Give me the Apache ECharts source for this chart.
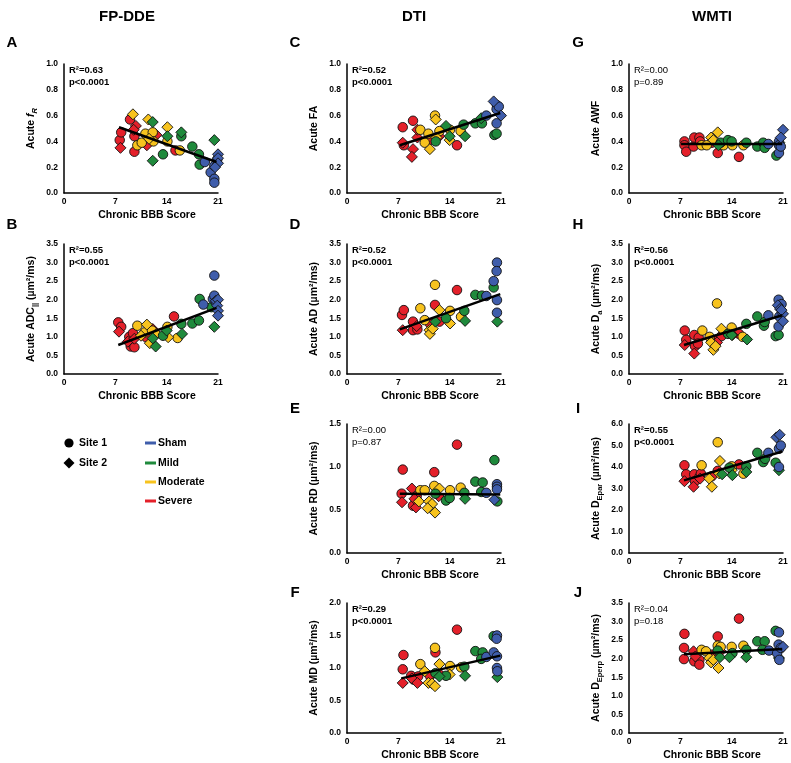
<!DOCTYPE html>
<html><head><meta charset="utf-8">
<script src="https://cdn.jsdelivr.net/npm/echarts@6/dist/echarts.min.js"></script>
<style>html,body{margin:0;padding:0;background:#fff}#c{width:791px;height:763px}</style>
</head><body><div id="c"></div>
<script>
// ---------- DATA ----------
const xTicks = [0, 7, 14, 21];
const columnTitles = ['FP-DDE', 'DTI', 'WMTI'];
const groupKeys = ['sev', 'mod', 'mild', 'sham'];
const groupLabels = ['Sham', 'Mild', 'Moderate', 'Severe'];
const siteLabels = ['Site 1', 'Site 2'];

// rows: [chronic BBB score, acute value, group, site]
const ptsA = [
 [7.7,0.35,'sev',2],[7.6,0.41,'sev',1],[7.8,0.47,'sev',1],[9.0,0.57,'sev',1],[9.8,0.52,'sev',2],[9.5,0.49,'sev',2],
 [9.6,0.44,'sev',1],[9.6,0.32,'sev',1],[11.3,0.37,'sev',2],[12.1,0.45,'sev',1],[12.6,0.45,'sev',2],[15.2,0.33,'sev',1],
 [9.4,0.61,'mod',2],[10.0,0.37,'mod',1],[10.6,0.39,'mod',1],[11.1,0.46,'mod',1],[11.5,0.57,'mod',2],[12.1,0.47,'mod',1],
 [12.2,0.40,'mod',1],[11.6,0.42,'mod',2],[14.1,0.51,'mod',2],[14.1,0.40,'mod',1],[15.8,0.33,'mod',1],
 [12.1,0.55,'mild',2],[12.1,0.25,'mild',2],[13.5,0.30,'mild',1],[14.1,0.44,'mild',2],[16.0,0.47,'mild',2],[16.0,0.44,'mild',1],
 [17.5,0.36,'mild',1],[18.4,0.30,'mild',1],[18.5,0.22,'mild',1],[20.5,0.41,'mild',2],
 [19.2,0.24,'sham',1],[20.0,0.16,'sham',1],[20.5,0.11,'sham',1],[20.5,0.08,'sham',1],[20.5,0.21,'sham',1],[21.0,0.30,'sham',2],
 [21.0,0.27,'sham',2],[21.0,0.23,'sham',2],[20.9,0.26,'sham',1],[20.6,0.20,'sham',2]
];
const ptsB = [
 [7.4,1.39,'sev',1],[7.8,1.27,'sev',1],[7.5,1.14,'sev',2],[8.9,1.00,'sev',1],[8.7,0.87,'sev',2],[9.4,1.10,'sev',1],
 [9.1,0.74,'sev',1],[9.6,0.72,'sev',1],[9.6,0.95,'sev',2],[11.2,0.99,'sev',1],[12.1,1.21,'sev',2],[15.0,1.55,'sev',1],
 [10.0,1.30,'mod',1],[10.5,1.03,'mod',2],[11.3,1.33,'mod',2],[11.0,1.12,'mod',1],[11.7,0.83,'mod',2],[12.0,1.17,'mod',1],
 [12.6,1.08,'mod',2],[14.1,1.27,'mod',1],[14.2,0.99,'mod',2],[15.5,0.97,'mod',1],
 [12.5,0.74,'mild',2],[12.1,0.96,'mild',2],[13.5,1.03,'mild',1],[14.0,1.17,'mild',2],[16.0,1.35,'mild',1],[16.1,1.08,'mild',2],
 [17.5,1.36,'mild',1],[18.4,1.44,'mild',1],[18.5,2.02,'mild',1],[20.1,1.80,'mild',1],[20.5,1.27,'mild',2],
 [19.0,1.87,'sham',1],[20.5,2.65,'sham',1],[20.3,2.02,'sham',1],[20.5,2.11,'sham',1],[20.7,1.97,'sham',2],[21.0,2.00,'sham',2],
 [20.9,1.84,'sham',2],[21.0,1.70,'sham',2],[21.0,1.57,'sham',2],[20.7,1.93,'sham',1]
];
const ptsC = [
 [7.6,0.51,'sev',1],[7.6,0.39,'sev',2],[7.75,0.37,'sev',1],[9.0,0.56,'sev',1],[9.0,0.34,'sev',2],[8.85,0.28,'sev',2],
 [9.6,0.43,'sev',2],[9.6,0.49,'sev',2],[11.3,0.41,'sev',1],[12.6,0.44,'sev',2],[15.0,0.37,'sev',1],
 [10.0,0.49,'mod',1],[10.6,0.39,'mod',1],[11.3,0.34,'mod',2],[11.1,0.46,'mod',1],[12.0,0.60,'mod',1],[12.1,0.57,'mod',2],
 [12.2,0.43,'mod',2],[12.6,0.48,'mod',1],[14.0,0.41,'mod',2],[14.05,0.49,'mod',1],[15.5,0.48,'mod',1],
 [12.1,0.40,'mild',1],[13.5,0.52,'mild',2],[14.0,0.44,'mild',2],[16.1,0.44,'mild',2],[15.9,0.53,'mild',1],[17.5,0.54,'mild',1],
 [18.4,0.54,'mild',1],[18.3,0.58,'mild',2],[20.1,0.45,'mild',1],[20.4,0.46,'mild',1],
 [19.0,0.60,'sham',1],[20.0,0.71,'sham',2],[20.45,0.68,'sham',1],[20.4,0.65,'sham',1],[20.4,0.54,'sham',1],[21.1,0.80,'sham',2],
 [21.1,0.72,'sham',2],[21.0,0.60,'sham',2],[20.7,0.67,'sham',1]
];
const ptsD = [
 [7.5,1.59,'sev',1],[7.75,1.72,'sev',1],[7.6,1.18,'sev',2],[9.0,1.41,'sev',1],[9.0,1.18,'sev',1],[9.5,1.29,'sev',2],
 [9.6,1.20,'sev',1],[12.0,1.86,'sev',1],[12.6,1.41,'sev',1],[11.3,1.36,'sev',1],[15.0,2.26,'sev',1],
 [10.0,1.77,'mod',1],[10.6,1.45,'mod',1],[11.25,1.18,'mod',2],[11.3,1.08,'mod',2],[11.7,1.22,'mod',2],[12.0,2.40,'mod',1],
 [12.6,1.72,'mod',2],[14.05,1.36,'mod',2],[14.05,1.70,'mod',1],[15.55,1.54,'mod',1],
 [12.06,1.41,'mild',2],[13.5,1.50,'mild',1],[16.0,1.70,'mild',1],[16.1,1.43,'mild',2],[17.5,2.13,'mild',1],[18.4,2.11,'mild',1],
 [20.0,2.33,'mild',1],[20.5,1.41,'mild',2],
 [19.0,2.10,'sham',1],[20.45,3.00,'sham',1],[20.4,2.77,'sham',1],[21.1,2.71,'sham',2],[20.0,2.50,'sham',1],[21.1,2.24,'sham',2],
 [20.45,1.99,'sham',1],[21.1,2.02,'sham',2],[21.1,1.95,'sham',2],[21.1,1.81,'sham',2],[20.45,1.65,'sham',1]
];
const ptsE = [
 [7.6,0.97,'sev',1],[7.5,0.59,'sev',2],[7.45,0.69,'sev',1],[8.85,0.75,'sev',2],[9.0,0.55,'sev',1],[9.4,0.53,'sev',2],
 [9.5,0.66,'sev',1],[11.9,0.94,'sev',1],[12.5,0.66,'sev',2],[15.0,1.26,'sev',1],[9.2,0.63,'sev',2],
 [10.0,0.73,'mod',1],[10.6,0.73,'mod',1],[9.8,0.60,'mod',2],[11.2,0.60,'mod',2],[11.6,0.57,'mod',2],[11.0,0.52,'mod',2],
 [12.0,0.47,'mod',2],[11.9,0.78,'mod',1],[12.6,0.75,'mod',2],[14.05,0.73,'mod',1],[15.5,0.76,'mod',1],
 [12.06,0.69,'mild',1],[13.5,0.61,'mild',1],[14.0,0.64,'mild',1],[16.0,0.70,'mild',1],[16.1,0.63,'mild',2],[17.5,0.83,'mild',1],
 [18.5,0.82,'mild',1],[18.3,0.71,'mild',1],[20.1,1.08,'mild',1],[20.5,0.60,'mild',1],
 [19.0,0.70,'sham',1],[20.45,0.80,'sham',1],[20.45,0.77,'sham',1],[20.45,0.74,'sham',1],[20.1,0.62,'sham',2],[21.1,0.62,'sham',2],
 [21.1,0.56,'sham',2],[21.1,0.48,'sham',2],[21.1,0.43,'sham',2],[21.1,0.37,'sham',2]
];
const ptsF = [
 [7.7,1.20,'sev',1],[7.6,0.98,'sev',1],[7.6,0.77,'sev',2],[8.75,0.88,'sev',1],[8.85,0.84,'sev',2],[9.1,0.82,'sev',1],
 [9.6,0.77,'sev',2],[9.7,0.87,'sev',1],[11.3,0.88,'sev',1],[12.06,1.24,'sev',1],[12.6,0.90,'sev',1],[15.0,1.59,'sev',1],
 [10.0,1.06,'mod',1],[10.6,0.95,'mod',2],[11.1,0.77,'mod',2],[11.6,0.76,'mod',2],[12.0,0.72,'mod',2],[12.0,1.31,'mod',1],
 [12.6,1.06,'mod',2],[14.05,1.03,'mod',1],[14.0,0.90,'mod',2],[15.55,1.01,'mod',1],
 [12.6,0.87,'mild',2],[12.06,0.92,'mild',1],[13.5,0.88,'mild',1],[16.1,0.88,'mild',2],[16.0,1.02,'mild',1],[17.5,1.26,'mild',1],
 [18.5,1.24,'mild',1],[18.3,1.14,'mild',1],[20.0,1.49,'mild',1],[20.5,0.86,'mild',2],
 [19.0,1.17,'sham',1],[20.45,1.50,'sham',1],[20.4,1.45,'sham',1],[20.0,1.24,'sham',1],[20.45,1.18,'sham',1],[21.1,1.32,'sham',2],
 [20.45,1.00,'sham',1],[21.1,1.00,'sham',2],[21.1,0.96,'sham',2],[20.5,0.95,'sham',1]
];
const ptsG = [
 [7.56,0.40,'sev',1],[7.56,0.37,'sev',1],[7.8,0.32,'sev',1],[8.8,0.36,'sev',1],[8.9,0.43,'sev',1],[9.6,0.43,'sev',1],
 [9.7,0.40,'sev',1],[12.1,0.31,'sev',1],[15.0,0.28,'sev',1],[11.3,0.39,'sev',1],
 [9.9,0.37,'mod',1],[10.6,0.37,'mod',1],[11.2,0.43,'mod',2],[11.5,0.41,'mod',2],[12.1,0.47,'mod',2],[12.9,0.37,'mod',1],
 [14.1,0.37,'mod',1],[15.6,0.37,'mod',1],
 [12.2,0.37,'mild',2],[12.5,0.39,'mild',1],[13.5,0.41,'mild',1],[14.0,0.40,'mild',1],[16.0,0.39,'mild',1],[17.5,0.36,'mild',1],
 [18.3,0.39,'mild',1],[18.5,0.35,'mild',1],[20.1,0.29,'mild',1],[20.5,0.39,'mild',2],
 [19.0,0.38,'sham',1],[21.0,0.49,'sham',2],[20.7,0.43,'sham',2],[20.45,0.40,'sham',1],[20.45,0.37,'sham',1],[20.45,0.31,'sham',1],
 [21.1,0.44,'sham',2],[21.1,0.38,'sham',2],[20.7,0.36,'sham',1]
];
const ptsH = [
 [7.6,1.17,'sev',1],[7.8,0.92,'sev',1],[7.6,0.78,'sev',2],[8.9,1.05,'sev',1],[8.9,0.55,'sev',2],[9.0,0.75,'sev',1],
 [9.5,0.98,'sev',1],[9.4,0.82,'sev',1],[11.3,0.88,'sev',2],[11.9,0.92,'sev',1],[12.6,1.02,'sev',1],[15.0,1.08,'sev',1],[12.0,0.85,'sev',2],
 [10.0,1.17,'mod',1],[11.2,0.85,'mod',2],[11.5,0.65,'mod',2],[11.8,0.75,'mod',2],[12.0,1.90,'mod',1],[12.6,1.22,'mod',2],
 [14.0,1.25,'mod',1],[14.1,1.05,'mod',2],[15.5,1.00,'mod',1],[11.0,1.00,'mod',1],
 [13.5,1.08,'mild',1],[14.0,1.05,'mild',2],[16.0,1.35,'mild',1],[16.1,0.93,'mild',2],[17.5,1.55,'mild',1],[18.4,1.30,'mild',1],
 [18.5,1.40,'mild',1],[20.0,1.02,'mild',1],[20.4,1.05,'mild',1],
 [19.0,1.58,'sham',1],[20.4,2.00,'sham',1],[20.3,1.85,'sham',2],[21.1,2.00,'sham',2],[20.6,1.75,'sham',2],[20.8,1.88,'sham',1],
 [21.0,1.62,'sham',2],[21.0,1.42,'sham',2],[20.4,1.28,'sham',1],[20.5,1.55,'sham',1],[20.8,1.72,'sham',2]
];
const ptsI = [
 [7.56,4.08,'sev',1],[7.8,3.66,'sev',1],[7.56,3.34,'sev',2],[8.9,3.66,'sev',1],[8.8,3.08,'sev',2],[9.0,3.34,'sev',1],
 [9.6,3.54,'sev',1],[9.8,3.69,'sev',1],[11.3,3.57,'sev',1],[12.1,3.82,'sev',1],[15.0,4.12,'sev',1],[9.7,3.46,'sev',2],
 [9.9,4.08,'mod',1],[10.95,3.46,'mod',2],[11.3,3.08,'mod',2],[12.1,5.15,'mod',1],[12.4,4.28,'mod',2],[12.3,3.70,'mod',2],
 [14.0,4.03,'mod',1],[14.0,3.85,'mod',2],[15.6,3.69,'mod',1],
 [13.7,3.97,'mild',1],[14.1,3.62,'mild',2],[16.0,4.03,'mild',1],[16.0,3.77,'mild',2],[17.5,4.66,'mild',1],[18.3,4.23,'mild',1],
 [18.55,4.38,'mild',1],[20.0,4.20,'mild',1],[20.45,3.85,'mild',2],[12.7,3.66,'mild',2],
 [19.0,4.66,'sham',1],[20.1,5.38,'sham',2],[20.55,5.50,'sham',2],[21.1,5.49,'sham',2],[21.1,5.18,'sham',2],[21.1,4.54,'sham',2],
 [20.45,4.85,'sham',1],[20.45,4.00,'sham',1],[20.7,5.00,'sham',1]
];
const ptsJ = [
 [7.56,2.67,'sev',1],[7.5,2.29,'sev',1],[7.5,1.99,'sev',1],[8.8,2.20,'sev',2],[8.9,1.93,'sev',1],[9.05,2.06,'sev',2],
 [9.6,1.97,'sev',1],[9.6,1.84,'sev',1],[11.3,2.11,'sev',1],[12.1,2.60,'sev',1],[12.5,2.20,'sev',2],[15.0,3.08,'sev',1],
 [9.9,2.24,'mod',1],[10.5,2.20,'mod',1],[10.95,2.02,'mod',2],[11.2,1.90,'mod',2],[12.1,2.35,'mod',1],[12.5,2.32,'mod',1],
 [12.2,1.75,'mod',2],[14.0,2.32,'mod',1],[15.6,2.35,'mod',1],[11.5,1.97,'mod',2],
 [12.1,2.22,'mild',1],[12.4,2.04,'mild',2],[13.7,2.04,'mild',2],[14.1,2.15,'mild',1],[16.0,2.04,'mild',2],[16.0,2.24,'mild',1],
 [17.5,2.47,'mild',1],[18.5,2.47,'mild',1],[18.2,2.24,'mild',1],[20.0,2.75,'mild',1],[20.45,2.02,'mild',2],
 [19.1,2.22,'sham',1],[20.45,2.71,'sham',1],[20.4,2.38,'sham',1],[20.2,2.15,'sham',1],[21.0,2.32,'sham',2],[20.7,2.29,'sham',1],
 [21.1,2.11,'sham',2],[21.1,1.97,'sham',2],[21.1,1.84,'sham',2],[21.1,1.78,'sham',2],[20.5,1.97,'sham',1]
];

// regression line end points [x, y]
const fitA = [[7.5,0.51],[20.8,0.24]];
const fitB = [[7.4,0.78],[20.8,1.78]];
const fitC = [[7.2,0.37],[20.9,0.62]];
const fitD = [[7.2,1.20],[20.9,2.15]];
const fitE = [[7.2,0.69],[20.9,0.68]];
const fitF = [[7.4,0.84],[20.9,1.19]];
const fitG = [[7.1,0.38],[20.9,0.38]];
const fitH = [[7.5,0.78],[20.9,1.58]];
const fitI = [[7.5,3.38],[20.9,4.72]];
const fitJ = [[7.5,2.12],[20.9,2.26]];

// stats
const statR2 = {A:'0.63',B:'0.55',C:'0.52',D:'0.52',E:'0.00',F:'0.29',G:'0.00',H:'0.56',I:'0.55',J:'0.04'};
const statP  = {A:'p<0.0001',B:'p<0.0001',C:'p<0.0001',D:'p<0.0001',E:'p=0.87',F:'p<0.0001',G:'p=0.89',H:'p<0.0001',I:'p<0.0001',J:'p=0.18'};

// y axis ranges [max, interval]
const yRange = {A:[1.0,0.2],B:[3.5,0.5],C:[1.0,0.2],D:[3.5,0.5],E:[1.5,0.5],F:[2.0,0.5],G:[1.0,0.2],H:[3.5,0.5],I:[6.0,1.0],J:[3.5,0.5]};

// y axis names (rich text)
const yNames = {
 A:'Acute {it|f}{subit|R}',
 B:'Acute ADC{sub|||} (µm²/ms)',
 C:'Acute FA',
 D:'Acute AD (µm²/ms)',
 E:'Acute RD (µm²/ms)',
 F:'Acute MD (µm²/ms)',
 G:'Acute AWF',
 H:'Acute D{sub|a} (µm²/ms)',
 I:'Acute D{sub|Epar} (µm²/ms)',
 J:'Acute D{sub|Eperp} (µm²/ms)'
};
const xName = 'Chronic BBB Score';

// ---------- STYLE / LAYOUT ----------
const FF = '"Liberation Sans", Arial, Helvetica, sans-serif';
const colors = {sham:'#3F5DAB', mild:'#1F8A3C', mod:'#F7C31E', sev:'#E4202A'};
const legendColors = ['#3F5DAB','#1F8A3C','#F7C31E','#E4202A'];
const layout = {
 A:{left:64, top:64, h:129, lx:12, ly:43},
 B:{left:64, top:244, h:130, lx:12, ly:225},
 C:{left:347, top:64, h:129, lx:295, ly:43},
 D:{left:347, top:244, h:130, lx:295, ly:225},
 E:{left:347, top:424, h:129, lx:295, ly:409},
 F:{left:347, top:603, h:130, lx:295, ly:593},
 G:{left:629, top:64, h:129, lx:578, ly:43},
 H:{left:629, top:244, h:130, lx:578, ly:225},
 I:{left:629, top:424, h:129, lx:578, ly:409},
 J:{left:629, top:603, h:130, lx:578, ly:593}
};
const pts = {A:ptsA,B:ptsB,C:ptsC,D:ptsD,E:ptsE,F:ptsF,G:ptsG,H:ptsH,I:ptsI,J:ptsJ};
const fits = {A:fitA,B:fitB,C:fitC,D:fitD,E:fitE,F:fitF,G:fitG,H:fitH,I:fitI,J:fitJ};
const ids = ['A','B','C','D','E','F','G','H','I','J'];

const grid=[], xAxis=[], yAxis=[], series=[], graphic=[];
const labelStyle = {fontFamily:FF, fontWeight:'bold', fontSize:8.5, color:'#000'};
const axisLine = {show:true, onZero:false, lineStyle:{color:'#000', width:1.5}};

ids.forEach((id, i) => {
  const L = layout[id];
  grid.push({left:L.left, top:L.top, width:154, height:L.h});
  xAxis.push({
    gridIndex:i, type:'value', min:xTicks[0], max:xTicks[xTicks.length-1], interval:xTicks[1]-xTicks[0],
    name:xName, nameLocation:'middle', nameGap:15,
    nameTextStyle:{fontFamily:FF, fontWeight:'bold', fontSize:10.5, color:'#000', lineHeight:14, padding:[0,0,0,12]},
    axisLine, axisTick:{show:false}, splitLine:{show:false},
    axisLabel:Object.assign({margin:4}, labelStyle)
  });
  const base = {fontFamily:FF, fontWeight:'bold', fontSize:10.5, color:'#000', lineHeight:16};
  yAxis.push({
    gridIndex:i, type:'value', min:0, max:yRange[id][0], interval:yRange[id][1],
    name:yNames[id], nameLocation:'middle', nameGap:25,
    nameTextStyle:Object.assign({}, base, {rich:{
      it:Object.assign({}, base, {fontStyle:'italic'}),
      subit:{fontFamily:FF, fontWeight:'bold', fontStyle:'italic', fontSize:7.5, color:'#000', lineHeight:9, verticalAlign:'bottom'},
      sub:{fontFamily:FF, fontWeight:'bold', fontSize:7.5, color:'#000', lineHeight:9, verticalAlign:'bottom'}
    }}),
    axisLine, axisTick:{show:false}, splitLine:{show:false},
    axisLabel:Object.assign({margin:6, formatter:v => v.toFixed(1)}, labelStyle)
  });
  groupKeys.forEach(g => {
    [1,2].forEach(site => {
      const d = pts[id].filter(r => r[2]===g && r[3]===site).map(r => [r[0], r[1]]);
      if (!d.length) return;
      series.push({
        type:'scatter', xAxisIndex:i, yAxisIndex:i, data:d,
        symbol: site===1 ? 'circle' : 'diamond', symbolSize: site===1 ? 9.5 : 11,
        itemStyle:{color:colors[g], borderColor:'#111', borderWidth:0.9, opacity:1},
        z:2, silent:true
      });
    });
  });
  series.push({type:'line', xAxisIndex:i, yAxisIndex:i, data:fits[id], symbol:'none',
    lineStyle:{color:'#000', width:2.5}, z:3, silent:true});

  const sig = statP[id].indexOf('<') >= 0;
  const w = sig ? 'bold' : 'normal';
  graphic.push({type:'text', z:10, style:{x:L.left+5, y:L.top+6, text:'R²=' + statR2[id], fontFamily:FF, fontWeight:w, fontSize:9.5, fill:'#000', align:'left', verticalAlign:'middle'}});
  graphic.push({type:'text', z:10, style:{x:L.left+5, y:L.top+18, text:statP[id], fontFamily:FF, fontWeight:w, fontSize:9.5, fill:'#000', align:'left', verticalAlign:'middle'}});
  graphic.push({type:'text', z:10, style:{x:L.lx, y:L.ly, text:id, fontFamily:FF, fontWeight:'bold', fontSize:15, fill:'#000', align:'center', verticalAlign:'middle'}});
});

// column titles
[127, 414, 712].forEach((cx, k) => {
  graphic.push({type:'text', z:10, style:{x:cx, y:17, text:columnTitles[k], fontFamily:'"Liberation Sans Narrow", ' + FF, fontWeight:'bold', fontSize:15, fill:'#000', align:'center', verticalAlign:'middle'}});
});

// legend
graphic.push({type:'circle', z:10, shape:{cx:69, cy:443, r:4.6}, style:{fill:'#000'}});
graphic.push({type:'polygon', z:10, shape:{points:[[69,457.5],[74.5,463],[69,468.5],[63.5,463]]}, style:{fill:'#000'}});
[443, 463].forEach((y, k) => {
  graphic.push({type:'text', z:10, style:{x:79, y:y, text:siteLabels[k], fontFamily:FF, fontWeight:'bold', fontSize:10.5, fill:'#000', align:'left', verticalAlign:'middle'}});
});
[443, 463, 482, 501].forEach((y, k) => {
  graphic.push({type:'line', z:10, shape:{x1:145, y1:y, x2:156, y2:y}, style:{stroke:legendColors[k], lineWidth:3}});
  graphic.push({type:'text', z:10, style:{x:158, y:y, text:groupLabels[k], fontFamily:FF, fontWeight:'bold', fontSize:10.5, fill:'#000', align:'left', verticalAlign:'middle'}});
});

const chart = echarts.init(document.getElementById('c'), null, {renderer:'canvas'});
chart.setOption({animation:false, backgroundColor:'#fff', grid, xAxis, yAxis, series, graphic});
</script>
</body></html>
